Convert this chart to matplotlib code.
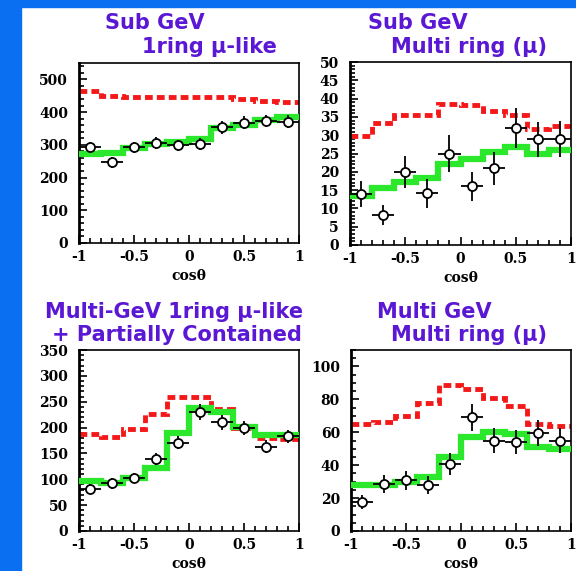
import numpy as np
import matplotlib.pyplot as plt
from matplotlib.patches import Rectangle
from matplotlib.ticker import MultipleLocator, FixedLocator, FixedFormatter

W, H = 576, 571

# bin edges in cos(theta), 10 bins
edges = np.linspace(-1, 1, 11)
centers = (edges[:-1] + edges[1:]) / 2

# Sub GeV 1ring mu-like
sg1_data = [293, 246, 293, 306, 299, 303, 353, 368, 373, 371]
sg1_err = [17, 16, 17, 18, 17, 18, 19, 19, 19, 19]
sg1_noosc = [464, 450, 446, 446, 446, 445, 446, 440, 433, 431]
sg1_osc = [272, 276, 289, 301, 309, 319, 350, 362, 375, 385]

# Sub GeV multi ring (mu)
sgm_data = [13.9, 8.2, 20, 14.1, 25, 16, 21, 32, 28.9, 29]
sgm_err = [3.6, 2.7, 4.3, 3.9, 5, 3.9, 4.5, 5.4, 4.8, 5]
sgm_noosc = [29.8, 33.3, 35.6, 35.6, 38.5, 38.2, 36.6, 35.5, 31.6, 32.5]
sgm_osc = [13.5, 15.6, 17.3, 18.3, 22, 23.5, 25.3, 26.8, 25, 26]

# Multi-GeV 1ring mu-like + PC
mg1_data = [82, 92, 102, 139, 171, 230, 210, 199, 163, 183]
mg1_err = [9, 10, 10, 12, 13, 15, 14, 14, 13, 13]
mg1_noosc = [188, 182, 198, 226, 260, 260, 236, 200, 180, 178]
mg1_osc = [97, 93, 102, 121, 189, 238, 231, 202, 185, 185]

# Multi GeV multi ring (mu)
mgm_data = [17.6, 28.7, 30.7, 27.7, 40.8, 69, 55, 54, 59.4, 55]
mgm_err = [4.5, 5.5, 5.5, 5.5, 6.5, 8, 7.5, 7.5, 8, 7.5]
mgm_noosc = [65, 66, 70, 78, 89, 86, 81, 76, 65, 64]
mgm_osc = [28, 28, 29.5, 33, 45, 57, 60, 59, 51, 50]

xtick_vals = [-1, -0.5, 0, 0.5, 1]
xtick_labels = ['-1', '-0.5', '0', '0.5', '1']

title_color = '#5a18d4'
frame_blue = '#0a6ff0'

fig = plt.figure(figsize=(W / 100, H / 100), dpi=100)
fig.patch.set_facecolor('white')

# blue frame strips (left and top)
fig.add_artist(Rectangle((0, 0), 21 / W, 1, transform=fig.transFigure,
                         color=frame_blue, zorder=0))
fig.add_artist(Rectangle((0, 1 - 7 / H), 1, 7 / H, transform=fig.transFigure,
                         color=frame_blue, zorder=0))


def box(l, r, t, b):
    return [l / W, 1 - b / H, (r - l) / W, (b - t) / H]


def panel(rect, data, err, noosc, osc, ymax, major, minor):
    ax = fig.add_axes(rect)
    ax.stairs(noosc, edges, baseline=None, color='#f41818', lw=3.5,
              linestyle=(0, (1.6, 0.85)), zorder=2)
    ax.stairs(osc, edges, baseline=None, color='#2ce82c', lw=4.5, zorder=3)
    ax.errorbar(centers, data, yerr=err, xerr=0.1, fmt='o', mfc='white',
                mec='black', ms=6.5, mew=1.3, ecolor='black', elinewidth=1.3,
                capsize=0, zorder=5)
    ax.set_xlim(-1, 1)
    ax.set_ylim(0, ymax)
    ax.xaxis.set_major_locator(FixedLocator(xtick_vals))
    ax.xaxis.set_major_formatter(FixedFormatter(xtick_labels))
    ax.xaxis.set_minor_locator(MultipleLocator(0.1))
    ax.yaxis.set_major_locator(MultipleLocator(major))
    ax.yaxis.set_minor_locator(MultipleLocator(minor))
    ax.tick_params(which='both', direction='in', top=False, right=False,
                   width=1.2)
    ax.tick_params(which='major', length=6)
    ax.tick_params(which='minor', length=3.5)
    ax.tick_params(axis='y', pad=8)
    ax.tick_params(axis='x', pad=5)
    for lab in ax.get_xticklabels() + ax.get_yticklabels():
        lab.set_fontfamily('DejaVu Serif')
        lab.set_fontweight('bold')
        lab.set_fontsize(10)
    for s in ax.spines.values():
        s.set_linewidth(1.2)
    ax.spines['left'].set_linewidth(2)
    ax.set_xlabel('cosθ', fontfamily='DejaVu Serif', fontweight='bold',
                  fontsize=10, labelpad=4)
    return ax


panel(box(79, 299, 63, 243), sg1_data, sg1_err, sg1_noosc, sg1_osc, 550, 100, 20)
panel(box(350, 571, 62, 245), sgm_data, sgm_err, sgm_noosc, sgm_osc, 50, 5, 1)
panel(box(79, 299, 350, 531), mg1_data, mg1_err, mg1_noosc, mg1_osc, 350, 50, 10)
panel(box(351, 571, 350, 531), mgm_data, mgm_err, mgm_noosc, mgm_osc, 110, 20, 5)


def title(x, y, s):
    fig.text(x / W, 1 - y / H, s, color=title_color, fontsize=15,
             fontweight='bold', family='DejaVu Sans', ha='left', va='center')


title(105, 23, 'Sub GeV')
title(142, 47, '1ring μ-like')
title(368, 23, 'Sub GeV')
title(391, 47, 'Multi ring (μ)')
title(45, 312, 'Multi-GeV 1ring μ-like')
title(52, 335, '+ Partially Contained')
title(377, 312, 'Multi GeV')
title(391, 335, 'Multi ring (μ)')

fig.savefig('out.png', dpi=100)
